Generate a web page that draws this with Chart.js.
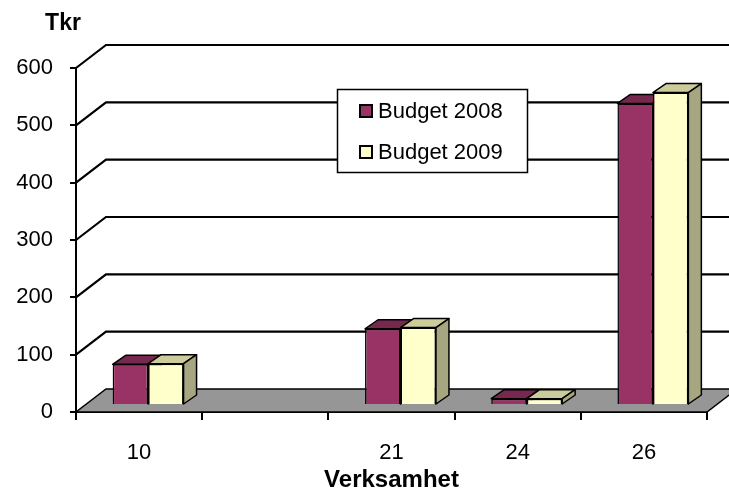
<!DOCTYPE html>
<html>
<head>
<meta charset="utf-8">
<script src="https://cdn.jsdelivr.net/npm/chart.js@4"></script>
<style>
  html, body { margin: 0; padding: 0; background: #fff; }
</style>
</head>
<body>
<canvas id="myChart" width="729" height="495"></canvas>
<script>
const categories = ['10', '', '21', '24', '26'];
const budget2008 = [71, null, 133, 11, 526];
const budget2009 = [72, null, 135, 11, 545];
const yTicks = [0, 100, 200, 300, 400, 500, 600];
const seriesNames = ['Budget 2008', 'Budget 2009'];

const FONT = '"Liberation Sans", Arial, sans-serif';

// fake 3d: wall depth, bar offset on the floor, bar depth
const wallDX = 30, wallDY = -23;
const shiftX = 9, shiftY = -7;
const barDX = 13, barDY = -9;

function poly(ctx, pts, fill) {
    ctx.beginPath();
    ctx.moveTo(pts[0][0], pts[0][1]);
    for (let i = 1; i < pts.length; i++) ctx.lineTo(pts[i][0], pts[i][1]);
    ctx.closePath();
    ctx.fillStyle = fill;
    ctx.fill();
    ctx.stroke();
}

const threeD = {
    id: 'threeD',
    beforeDatasetsDraw(chart) {
        const ctx = chart.ctx;
        const a = chart.chartArea;
        const y = chart.scales.y;
        ctx.save();
        ctx.strokeStyle = '#000';
        // floor
        const y0 = y.getPixelForValue(0);
        ctx.lineWidth = 1.5;
        poly(ctx, [[a.left, y0], [a.right, y0], [a.right + wallDX, y0 + wallDY], [a.left + wallDX, y0 + wallDY]], '#969696');
        // back wall + left wall grid lines
        ctx.lineWidth = 2.2;
        yTicks.forEach(v => {
            if (v === 0) return;
            const py = y.getPixelForValue(v);
            ctx.beginPath();
            ctx.moveTo(a.left, py);
            ctx.lineTo(a.left + wallDX, py + wallDY);
            ctx.lineTo(chart.width, py + wallDY);
            ctx.stroke();
        });
        ctx.restore();

        // top and side faces of the bars, fronts are drawn by chart.js
        ctx.save();
        ctx.translate(shiftX, shiftY);
        ctx.save();
        ctx.strokeStyle = '#000';
        ctx.lineWidth = 1.5;
        ctx.lineJoin = 'round';
        chart.data.datasets.forEach((ds, di) => {
            const meta = chart.getDatasetMeta(di);
            meta.data.forEach((bar, i) => {
                if (ds.data[i] == null) return;
                const p = bar.getProps(['x', 'y', 'base', 'width'], true);
                const L = p.x - p.width / 2, R = p.x + p.width / 2;
                poly(ctx, [[L, p.y], [R, p.y], [R + barDX, p.y + barDY], [L + barDX, p.y + barDY]], ds.topColor);
                poly(ctx, [[R, p.y], [R + barDX, p.y + barDY], [R + barDX, p.base + barDY], [R, p.base]], ds.sideColor);
            });
        });
        ctx.restore();
    },
    afterDatasetsDraw(chart) {
        chart.ctx.restore();
    },
    afterDraw(chart) {
        const ctx = chart.ctx;
        ctx.save();
        // axis title on top
        ctx.fillStyle = '#000';
        ctx.font = 'bold 23px ' + FONT;
        ctx.textAlign = 'center';
        ctx.textBaseline = 'middle';
        ctx.fillText('Tkr', 63, 24);

        // legend box
        ctx.fillStyle = '#fff';
        ctx.strokeStyle = '#000';
        ctx.lineWidth = 1.5;
        ctx.fillRect(337.5, 89.5, 190, 83);
        ctx.strokeRect(337.5, 89.5, 190, 83);
        ctx.font = '22px ' + FONT;
        ctx.textAlign = 'left';
        chart.data.datasets.forEach((ds, i) => {
            const cy = 111 + i * 41;
            ctx.fillStyle = ds.backgroundColor;
            ctx.lineWidth = 2;
            ctx.fillRect(360, cy - 6, 12, 12);
            ctx.strokeRect(360, cy - 6, 12, 12);
            ctx.fillStyle = '#000';
            ctx.fillText(ds.label, 378, cy + 1);
        });
        ctx.restore();
    }
};

const ctx = document.getElementById('myChart');

new Chart(ctx, {
    type: 'bar',
    data: {
        labels: categories,
        datasets: [{
            label: seriesNames[0],
            data: budget2008,
            backgroundColor: '#993366',
            topColor: '#77284f',
            sideColor: '#6b2346',
            borderColor: '#000',
            borderWidth: 1.5,
            clip: false
        }, {
            label: seriesNames[1],
            data: budget2009,
            backgroundColor: '#ffffcc',
            topColor: '#cbcb9c',
            sideColor: '#a6a680',
            borderColor: '#000',
            borderWidth: 1.5,
            clip: false
        }]
    },
    options: {
        responsive: false,
        animation: false,
        devicePixelRatio: 1,
        layout: { padding: { top: 68, right: 22, left: 0, bottom: 0 } },
        datasets: { bar: { categoryPercentage: 0.562, barPercentage: 1 } },
        plugins: {
            legend: { display: false },
            tooltip: { enabled: false }
        },
        scales: {
            x: {
                grid: { drawOnChartArea: false, tickLength: 8, color: '#000', lineWidth: 2, offset: true },
                border: { color: '#000', width: 2 },
                ticks: { color: '#000', font: { family: FONT, size: 22 }, padding: 20, maxRotation: 0, autoSkip: false },
                title: { display: true, text: 'Verksamhet', color: '#000', font: { family: FONT, size: 24, weight: 'bold' }, padding: { top: 0, bottom: 0 } },
                afterFit(s) { s.height = 83; }
            },
            y: {
                min: 0,
                max: 600,
                ticks: { stepSize: 100, color: '#000', font: { family: FONT, size: 22 }, padding: 17 },
                grid: { drawOnChartArea: false, tickLength: 6, color: '#000', lineWidth: 2 },
                border: { color: '#000', width: 2 },
                afterFit(s) { s.width = 76; }
            }
        }
    },
    plugins: [threeD]
});
</script>
</body>
</html>
